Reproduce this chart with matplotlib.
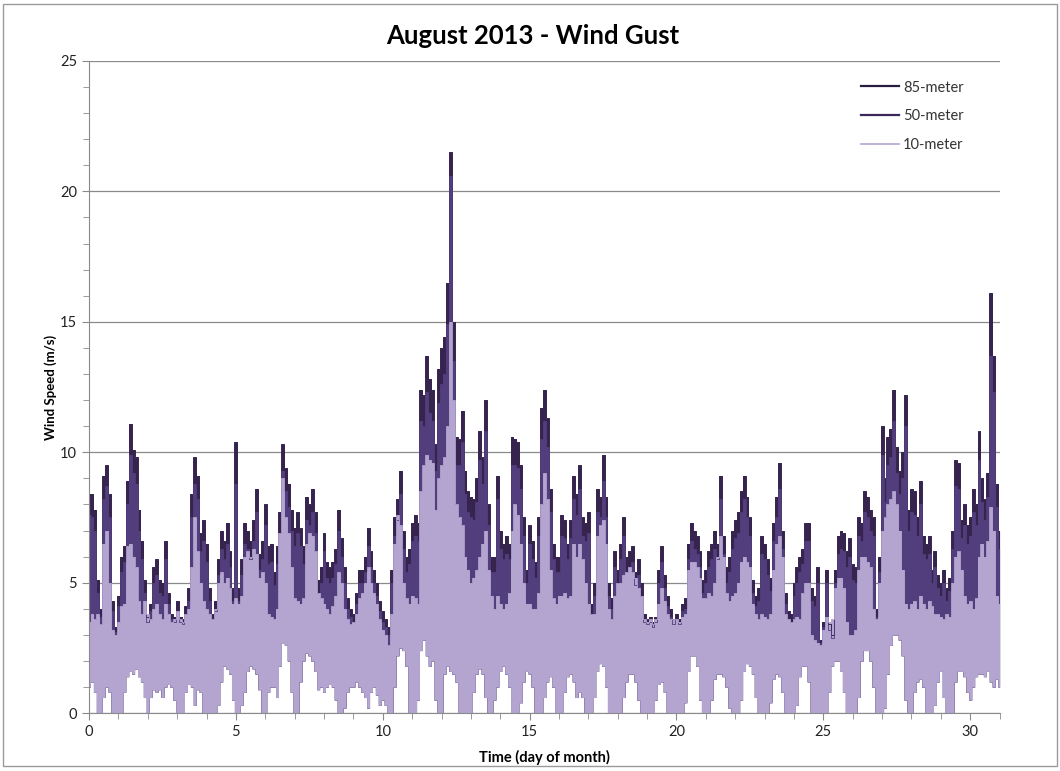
import numpy as np
import matplotlib
matplotlib.use("Agg")
import matplotlib.pyplot as plt
from matplotlib.ticker import MultipleLocator
from matplotlib.patches import Rectangle

plt.rcParams['font.family'] = ['Lato', 'DejaVu Sans']

gust_85 = [
    8.4, 8.4, 7.8, 5.1, 4.0, 9.1, 9.5, 8.4, 4.3, 3.3,
    4.5, 6.0, 6.4, 8.9, 11.1, 10.1, 9.8, 7.8, 6.6, 5.1,
    3.7, 4.2, 5.6, 5.9, 5.1, 5.0, 6.6, 4.6, 3.8, 3.7,
    4.3, 3.7, 3.6, 4.1, 4.8, 8.4, 9.8, 9.1, 6.9, 7.4,
    6.5, 4.8, 3.8, 4.3, 5.9, 7.0, 6.6, 7.3, 6.2, 4.8,
    10.4, 4.8, 5.9, 7.3, 7.0, 6.6, 7.4, 8.6, 6.1, 6.6,
    8.0, 6.4, 6.5, 5.4, 6.4, 7.7, 10.3, 9.4, 8.8, 7.8,
    7.1, 7.7, 7.1, 6.4, 8.3, 8.0, 8.6, 7.7, 5.1, 5.6,
    6.9, 5.8, 5.6, 5.8, 6.3, 7.8, 6.7, 5.6, 4.4, 4.0,
    3.8, 4.6, 5.5, 5.5, 6.0, 7.1, 6.2, 5.5, 5.0, 4.3,
    3.9, 3.6, 3.3, 5.5, 7.5, 8.2, 9.3, 7.0, 6.0, 6.3,
    7.3, 7.6, 7.3, 12.4, 12.2, 13.7, 12.8, 12.4, 10.3, 13.2,
    14.0, 14.4, 16.5, 21.5, 15.0, 10.6, 10.5, 11.6, 9.3, 8.5,
    8.3, 8.2, 9.0, 10.8, 9.8, 12.0, 8.0, 6.0, 6.0, 9.1,
    7.0, 6.5, 6.8, 6.5, 10.6, 10.5, 10.4, 9.5, 7.5, 5.5,
    7.2, 6.6, 5.8, 7.5, 11.7, 12.4, 11.3, 8.6, 6.5, 6.0,
    6.0, 7.6, 7.4, 6.5, 7.4, 9.1, 8.4, 9.5, 7.5, 7.3,
    7.7, 4.2, 5.0, 8.6, 8.3, 9.9, 8.3, 5.0, 4.4, 6.2,
    5.5, 6.5, 7.5, 6.0, 6.2, 6.4, 5.4, 5.9, 5.0, 3.8,
    3.6, 3.7, 3.5, 3.7, 5.5, 6.4, 5.3, 4.5, 4.0, 3.6,
    3.8, 3.6, 4.2, 4.4, 6.5, 7.3, 7.0, 6.8, 6.2, 5.1,
    5.5, 6.2, 6.5, 7.0, 6.5, 9.1, 6.8, 5.6, 6.0, 7.0,
    7.4, 7.7, 8.5, 9.1, 8.3, 7.5, 5.1, 4.5, 4.8, 6.8,
    6.5, 5.9, 5.2, 7.3, 8.3, 9.6, 7.0, 4.6, 3.9, 3.8,
    5.0, 5.6, 6.0, 6.3, 7.3, 7.3, 4.8, 4.5, 5.6, 2.8,
    3.5, 5.5, 3.4, 3.0, 5.5, 6.8, 7.0, 6.9, 6.2, 6.7,
    5.7, 5.6, 7.5, 7.3, 8.5, 8.3, 7.8, 7.5, 4.0, 6.0,
    11.0, 9.0, 10.6, 10.9, 12.4, 10.2, 9.3, 10.0, 12.2, 7.8,
    8.6, 8.5, 7.5, 8.9, 6.8, 6.5, 6.8, 5.5, 6.2, 5.3,
    5.0, 5.5, 4.8, 5.2, 7.0, 9.7, 9.6, 7.4, 8.0, 7.2,
    7.5, 8.6, 8.0, 10.8, 9.0, 8.2, 9.2, 16.1, 13.7, 8.8,
    7.0,
]

gust_50 = [
    7.6, 7.5, 7.0, 4.6, 3.7, 8.2, 8.7, 7.5, 3.9, 3.1,
    4.1, 5.4, 5.8, 8.0, 9.9, 9.2, 8.8, 7.0, 5.9, 4.6,
    3.5, 3.9, 5.0, 5.3, 4.6, 4.5, 5.9, 4.2, 3.6, 3.5,
    3.9, 3.5, 3.4, 3.8, 4.3, 7.5, 8.8, 8.2, 6.2, 6.6,
    5.8, 4.3, 3.6, 3.9, 5.3, 6.3, 5.9, 6.5, 5.6, 4.3,
    8.8, 4.3, 5.3, 6.5, 6.3, 5.9, 6.6, 7.7, 5.5, 5.9,
    7.2, 5.7, 5.8, 4.9, 5.7, 6.9, 9.3, 8.5, 7.9, 7.0,
    6.4, 6.9, 6.4, 5.7, 7.4, 7.2, 7.7, 6.9, 4.6, 5.0,
    6.2, 5.2, 5.0, 5.2, 5.7, 7.0, 6.0, 5.0, 4.0, 3.7,
    3.5, 4.2, 5.0, 5.0, 5.4, 6.4, 5.6, 5.0, 4.5, 3.9,
    3.5, 3.3, 3.0, 5.0, 6.8, 7.4, 8.4, 6.3, 5.4, 5.7,
    6.6, 6.8, 6.6, 11.2, 11.0, 12.3, 11.5, 11.2, 9.3, 11.9,
    12.6, 13.0, 14.9, 20.6, 13.5, 9.5, 9.5, 10.4, 8.4, 7.7,
    7.5, 7.4, 8.1, 9.7, 8.8, 10.8, 7.2, 5.4, 5.4, 8.2,
    6.3, 5.9, 6.1, 5.9, 9.5, 9.5, 9.4, 8.6, 6.8, 5.0,
    6.5, 5.9, 5.2, 6.8, 10.5, 11.2, 10.2, 7.7, 5.9, 5.4,
    5.4, 6.8, 6.7, 5.9, 6.7, 8.2, 7.6, 8.6, 6.8, 6.6,
    6.9, 3.8, 4.5, 7.7, 7.5, 8.9, 7.5, 4.5, 4.0, 5.6,
    5.0, 5.9, 6.8, 5.4, 5.6, 5.8, 4.9, 5.3, 4.5, 3.5,
    3.4, 3.5, 3.3, 3.5, 5.0, 5.8, 4.8, 4.1, 3.7, 3.4,
    3.6, 3.4, 3.9, 4.0, 5.9, 6.6, 6.3, 6.1, 5.6, 4.6,
    5.0, 5.6, 5.9, 6.3, 5.9, 8.2, 6.1, 5.0, 5.4, 6.3,
    6.7, 6.9, 7.7, 8.2, 7.5, 6.8, 4.6, 4.1, 4.3, 6.1,
    5.9, 5.3, 4.7, 6.6, 7.5, 8.6, 6.3, 4.2, 3.6, 3.5,
    4.5, 5.0, 5.4, 5.7, 6.6, 6.6, 4.3, 4.1, 5.0, 2.7,
    3.3, 5.0, 3.2, 2.9, 5.0, 6.1, 6.3, 6.2, 5.6, 6.0,
    5.1, 5.0, 6.8, 6.6, 7.7, 7.5, 7.0, 6.8, 3.7, 5.4,
    9.9, 8.1, 9.5, 9.8, 11.2, 9.2, 8.4, 9.0, 11.0, 7.0,
    7.7, 7.6, 6.8, 8.0, 6.1, 5.9, 6.1, 5.0, 5.6, 4.8,
    4.5, 5.0, 4.3, 4.7, 6.3, 8.7, 8.6, 6.7, 7.2, 6.5,
    6.8, 7.7, 7.2, 9.7, 8.1, 7.4, 8.3, 13.7, 12.3, 7.9,
    6.3,
]

# 10 m gust: upper and lower edge of the band
gust_10_hi = [
    3.5, 3.8, 3.6, 3.8, 3.4, 6.5, 7.0, 5.0, 3.2, 3.0,
    3.5, 4.1, 4.2, 6.4, 6.5, 6.0, 5.6, 4.3, 3.8, 4.3,
    3.8, 3.6, 4.0, 4.2, 3.8, 3.6, 4.2, 3.8, 3.5, 3.6,
    3.9, 3.6, 3.5, 3.8, 4.0, 5.6, 7.5, 6.2, 5.0, 4.3,
    4.0, 3.8, 3.6, 4.0, 5.0, 5.4, 5.0, 5.2, 4.8, 4.2,
    4.4, 4.2, 4.5, 6.0, 6.2, 6.0, 6.3, 6.1, 5.2, 5.4,
    5.0, 3.8, 3.7, 3.6, 4.0, 6.9, 9.0, 7.5, 6.9, 5.6,
    4.4, 4.3, 4.2, 4.4, 6.5, 6.9, 6.8, 6.2, 4.6, 4.4,
    4.2, 4.0, 3.8, 4.1, 4.5, 5.4, 5.0, 4.0, 3.6, 3.4,
    3.5, 3.8, 4.4, 4.6, 5.0, 5.6, 5.0, 4.6, 4.2, 3.6,
    3.2, 3.0, 2.6, 3.8, 6.5, 7.6, 7.2, 5.0, 4.4, 4.2,
    4.5, 4.4, 4.2, 8.5, 9.5, 9.9, 9.7, 9.6, 7.8, 9.0,
    9.5, 9.8, 11.0, 15.0, 12.0, 8.0, 7.5, 7.2, 6.0, 5.5,
    5.0, 5.2, 5.5, 6.0, 6.5, 7.0, 5.5, 4.5, 4.0, 4.5,
    4.2, 4.0, 4.2, 4.6, 7.0, 8.0, 7.6, 6.5, 5.0, 4.2,
    4.2, 4.0, 4.0, 4.6, 8.0, 9.2, 8.2, 5.5, 4.4, 4.2,
    4.5, 4.5, 4.6, 4.4, 4.5, 6.5, 6.0, 6.5, 5.9, 5.0,
    4.2, 3.8, 3.8, 6.8, 7.2, 7.4, 6.5, 4.0, 3.6, 4.5,
    5.0, 5.0, 5.3, 5.4, 5.6, 5.4, 5.2, 4.8, 4.5, 3.6,
    3.5, 3.6, 3.4, 3.6, 4.2, 4.8, 4.3, 3.8, 3.6, 3.6,
    3.6, 3.5, 3.7, 3.8, 5.5, 5.8, 5.8, 5.6, 5.2, 4.4,
    4.4, 4.6, 4.5, 5.0, 6.0, 6.8, 6.0, 4.6, 4.3, 4.5,
    4.6, 5.0, 5.8, 6.0, 5.8, 5.6, 4.2, 3.8, 3.6, 3.8,
    3.7, 3.6, 3.8, 5.5, 6.5, 6.8, 6.0, 3.8, 3.6, 3.5,
    3.6, 3.7, 3.6, 4.6, 5.0, 5.0, 3.0, 2.8, 2.7, 2.6,
    3.2, 3.7, 3.5, 3.6, 4.8, 5.2, 5.2, 4.8, 3.5, 3.0,
    3.0, 3.2, 5.5, 6.0, 6.0, 5.8, 5.6, 4.0, 3.6, 5.0,
    7.0, 7.5, 8.0, 8.2, 8.5, 8.0, 7.0, 5.5, 4.2, 4.0,
    4.2, 4.3, 4.0, 4.5, 4.2, 4.0, 4.3, 4.1, 3.8, 3.8,
    3.7, 3.6, 3.8, 3.7, 5.0, 6.0, 6.2, 5.5, 4.5, 4.2,
    4.3, 4.0, 4.4, 6.0, 6.5, 6.0, 6.6, 7.9, 7.0, 4.5,
    4.2,
]

gust_10_lo = [
    1.0, 1.2, 0.8, 0.0, 0.0, 0.6, 1.0, 0.8, 0.0, 0.0,
    0.0, 0.0, 0.8, 1.4, 1.6, 1.5, 1.7, 1.4, 1.2, 0.6,
    0.0, 0.6, 0.9, 0.8, 0.9, 0.6, 1.0, 1.1, 1.0, 0.5,
    0.0, 0.0, 0.0, 0.8, 1.1, 1.0, 0.3, 0.9, 0.8, 0.0,
    0.0, 0.0, 0.0, 0.0, 0.3, 1.2, 1.8, 1.7, 1.5, 0.5,
    0.0, 0.0, 0.3, 0.8, 1.6, 1.8, 1.7, 1.5, 0.9, 0.0,
    0.0, 0.8, 1.0, 1.0, 0.6, 1.8, 2.7, 2.6, 2.0, 0.8,
    0.0, 0.0, 1.2, 2.0, 2.3, 2.2, 2.0, 1.6, 0.9, 1.0,
    0.8, 1.0, 1.1, 1.0, 0.5, 0.0, 0.0, 0.2, 0.8, 1.0,
    1.0, 1.2, 1.0, 0.8, 0.6, 0.2, 0.8, 1.0, 0.7, 0.3,
    0.5, 0.3, 0.0, 0.0, 1.0, 2.2, 2.5, 2.4, 1.8, 0.0,
    0.0, 0.0, 0.5, 2.4, 2.8, 2.2, 1.8, 2.0, 0.5, 0.0,
    0.0, 1.5, 1.8, 1.6, 1.5, 1.2, 0.0, 0.0, 0.0, 0.0,
    0.0, 0.8, 1.5, 1.7, 1.5, 0.6, 0.0, 0.0, 0.5, 1.0,
    1.6, 1.8, 1.5, 1.0, 0.0, 0.0, 0.0, 0.4, 1.2, 1.6,
    1.5, 1.0, 0.0, 0.0, 0.0, 0.6, 1.2, 1.4, 1.0, 0.0,
    0.0, 0.0, 0.8, 1.4, 1.5, 1.2, 0.6, 0.8, 0.6, 0.0,
    0.0, 0.0, 0.6, 1.6, 1.9, 1.8, 1.0, 0.0, 0.0, 0.0,
    0.0, 0.0, 0.6, 1.2, 1.5, 1.5, 1.2, 0.5, 0.0, 0.0,
    0.0, 0.0, 0.0, 0.5, 1.1, 1.2, 0.8, 0.0, 0.0, 0.0,
    0.0, 0.0, 0.0, 0.4, 1.6, 2.2, 2.2, 1.8, 0.5, 0.0,
    0.0, 0.0, 0.5, 1.3, 1.5, 1.5, 1.4, 1.0, 0.2, 0.0,
    0.0, 0.0, 0.5, 1.6, 1.9, 1.8, 1.5, 0.6, 0.0, 0.0,
    0.0, 0.0, 0.4, 1.3, 1.5, 1.4, 0.8, 0.0, 0.0, 0.0,
    0.0, 0.3, 1.4, 1.8, 1.8, 1.2, 0.0, 0.0, 0.0, 0.0,
    0.0, 0.0, 0.8, 1.8, 2.0, 2.0, 1.6, 0.8, 0.0, 0.0,
    0.0, 0.0, 0.6, 2.0, 2.4, 2.4, 2.0, 1.0, 0.0, 0.0,
    0.0, 0.2, 1.5, 2.6, 3.0, 3.0, 2.8, 2.2, 0.5, 0.0,
    0.0, 0.8, 1.2, 1.3, 1.0, 0.0, 0.0, 0.0, 0.3, 1.2,
    1.6, 0.6, 0.0, 0.0, 0.0, 1.2, 1.6, 1.6, 1.4, 0.8,
    0.5, 1.0, 1.4, 1.5, 1.5, 1.4, 1.6, 1.2, 1.0, 1.3,
    1.0,
]

day = np.arange(len(gust_85)) / 10.0

c85 = '#36244f'
c50 = '#523e7c'
c10 = '#b3a4d0'

fig = plt.figure(figsize=(10.6, 7.71), dpi=100)
ax = fig.add_axes([0.084, 0.075, 0.859, 0.846])

ax.fill_between(day, gust_10_lo, gust_85, step='mid', color=c85, lw=0)
ax.plot(day, gust_85, drawstyle='steps-mid', color=c85, lw=0.7, label='85-meter')
ax.fill_between(day, gust_10_lo, gust_50, step='mid', color=c50, lw=0)
ax.plot(day, gust_50, drawstyle='steps-mid', color=c50, lw=0.6, label='50-meter')
ax.fill_between(day, gust_10_lo, gust_10_hi, step='mid', color=c10, lw=0)
ax.plot(day, gust_10_hi, drawstyle='steps-mid', color=c10, lw=0.6, label='10-meter')

ax.set_xlim(0, 31)
ax.set_ylim(0, 25)
ax.xaxis.set_major_locator(MultipleLocator(5))
ax.xaxis.set_minor_locator(MultipleLocator(1))
ax.yaxis.set_major_locator(MultipleLocator(5))
ax.yaxis.set_minor_locator(MultipleLocator(1))
ax.grid(axis='y', which='major', color='#8a8a8a', lw=0.9)
ax.set_axisbelow(True)
for s in ['top', 'right']:
    ax.spines[s].set_visible(False)
for s in ['left', 'bottom']:
    ax.spines[s].set_color('#8a8a8a')
ax.tick_params(which='both', direction='out', colors='#8a8a8a', labelcolor='#222222', labelsize=10.5)
ax.tick_params(which='major', length=5)
ax.tick_params(which='minor', length=4)

ax.set_xlabel('Time (day of month)', fontsize=10.5, fontweight='bold', labelpad=8)
ax.set_ylabel('Wind Speed (m/s)', fontsize=9.5, fontweight='bold', labelpad=2)
fig.text(0.503, 0.953, 'August 2013 - Wind Gust', ha='center', va='center',
         fontsize=18.5, fontweight='bold')

leg = ax.legend(loc='upper right', bbox_to_anchor=(0.975, 0.99), frameon=False,
                fontsize=10.5, labelspacing=1.0, handlelength=2.6, handletextpad=0.3)
for ln, w, c in zip(leg.get_lines(), [1.6, 1.6, 1.2], ['#2a1d40', '#3a2858', c10]):
    ln.set_linewidth(w)
    ln.set_color(c)
for tx in leg.get_texts():
    tx.set_color('#333333')

fig.patches.append(Rectangle((0.003, 0.006), 0.994, 0.989, transform=fig.transFigure,
                             fill=False, edgecolor='#9a9a9a', lw=1))

fig.savefig('out.png', dpi=100)
